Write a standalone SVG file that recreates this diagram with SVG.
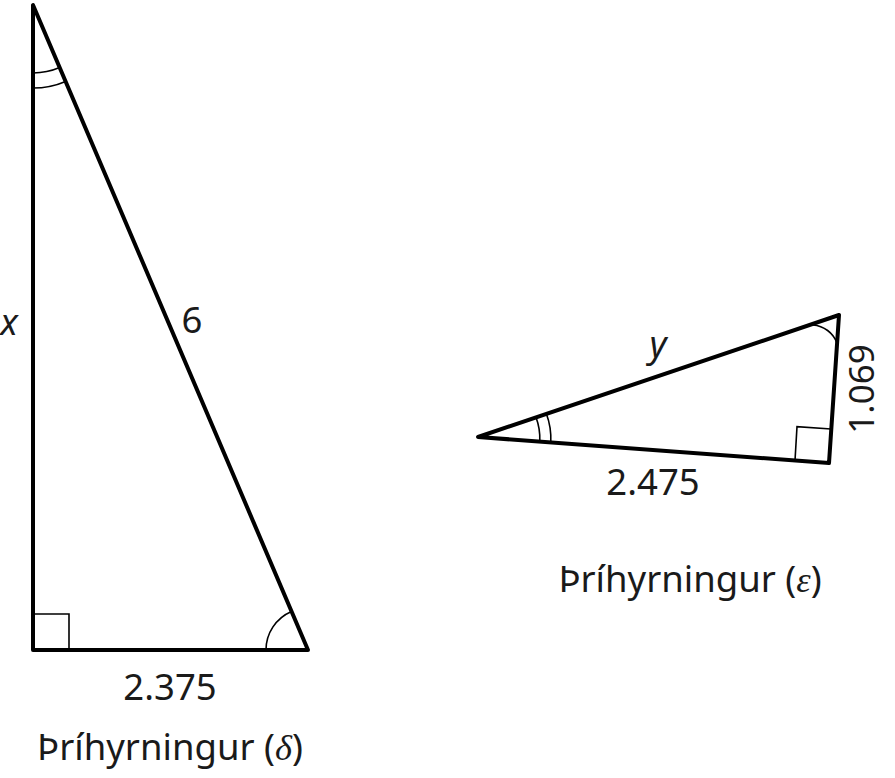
<svg xmlns="http://www.w3.org/2000/svg" width="895" height="778" viewBox="0 0 895 778">
<style>
.tri{fill:none;stroke:#000;stroke-width:4;stroke-linejoin:round;stroke-linecap:round}
.mark{fill:none;stroke:#000;stroke-width:1.6}
.lbl{font-family:"Noto Sans","Open Sans",sans-serif;font-size:36.5px;fill:#1a1a1a}
.var{font-style:italic}
.gr{font-family:"Liberation Serif",serif;font-style:italic}
</style>
<rect width="895" height="778" fill="#fff"/>
<g id="triangle-delta">
<polygon class="tri" points="33,5 33,650 308,650"/>
<polyline class="mark" points="33,614 69,614 69,650"/>
<path class="mark" d="M266,650 A42,42 0 0 1 291.5,611.4"/>
<path class="mark" d="M33,73 A68,68 0 0 0 59.7,67.6"/>
<path class="mark" d="M33,88 A83,83 0 0 0 65.6,81.4"/>
<text class="lbl var" x="9" y="335" text-anchor="middle">x</text>
<text class="lbl" x="192" y="333" text-anchor="middle">6</text>
<text class="lbl" x="170" y="700" text-anchor="middle">2.375</text>
<text class="lbl" x="170" y="760" text-anchor="middle">Þríhyrningur (<tspan class="gr">δ</tspan>)</text>
</g>
<g id="triangle-epsilon">
<polygon class="tri" points="478,437 839,315 829,463"/>
<polyline class="mark" points="795,460.5 797,426.6 831,429"/>
<path class="mark" d="M813,325 A28,28 0 0 1 837,343"/>
<path class="mark" d="M535.8,416.7 A62,62 0 0 1 539.8,441.6"/>
<path class="mark" d="M546.2,413.2 A73,73 0 0 1 550.8,442.4"/>
<text class="lbl var" x="658" y="357" text-anchor="middle">y</text>
<text class="lbl" transform="translate(874,389) rotate(-90)" text-anchor="middle" style="font-size:35px">1.069</text>
<text class="lbl" x="653" y="495" text-anchor="middle">2.475</text>
<text class="lbl" x="690" y="592" text-anchor="middle">Þríhyrningur (<tspan class="gr">ε</tspan>)</text>
</g>
<g id="connectors"/>
</svg>
